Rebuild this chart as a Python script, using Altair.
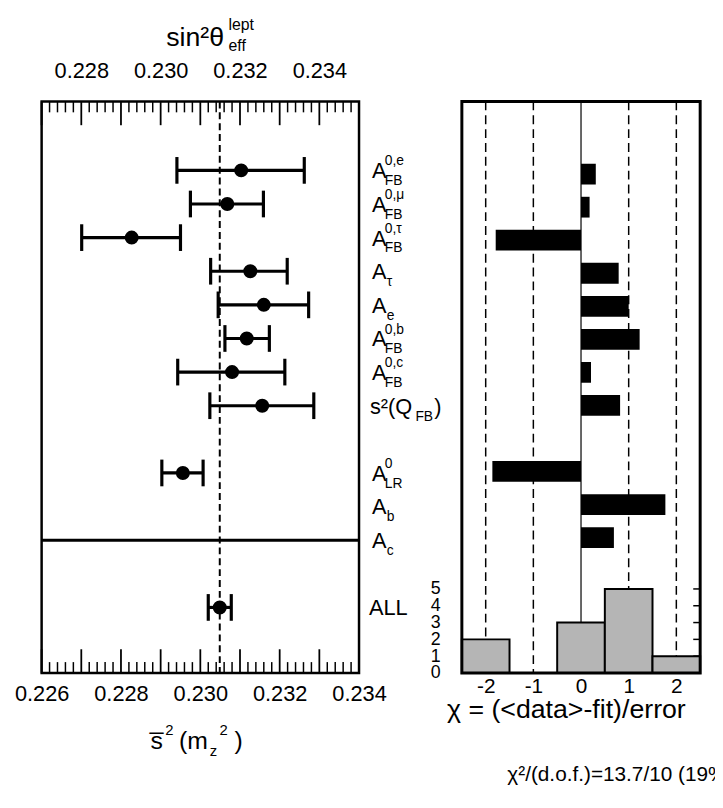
import altair as alt
import pandas as pd

FONT = "Liberation Sans"

# ---------------- data ----------------
row_order = ["AFB_e", "AFB_mu", "AFB_tau", "A_tau", "A_e", "AFB_b", "AFB_c",
             "s2_QFB", "gap1", "ALR", "A_b", "A_c", "gap2", "ALL"]

# left panel: effective s^2 measurements with errors
meas_names = ["AFB_e", "AFB_mu", "AFB_tau", "A_tau", "A_e", "AFB_b", "AFB_c",
              "s2_QFB", "ALR", "ALL"]
s2_val = [0.23103, 0.23068, 0.22827, 0.23126, 0.23160, 0.23117, 0.23080,
          0.23156, 0.22956, 0.23049]
s2_lo = [0.22941, 0.22975, 0.22701, 0.23026, 0.23045, 0.23062, 0.22943,
         0.23024, 0.22903, 0.23020]
s2_hi = [0.23262, 0.23159, 0.22950, 0.23219, 0.23273, 0.23174, 0.23213,
         0.23286, 0.23007, 0.23078]
s2_fit = 0.23049

# right panel: pulls
pull_names = ["AFB_e", "AFB_mu", "AFB_tau", "A_tau", "A_e", "AFB_b", "AFB_c",
              "s2_QFB", "ALR", "A_b", "A_c"]
pull_val = [0.31, 0.18, -1.79, 0.79, 1.00, 1.23, 0.21, 0.82, -1.86, 1.77, 0.69]

# histogram of pulls
hist_lo = [-2.5, -1.5, -0.5, 0.5, 1.5]
hist_hi = [-1.5, -0.5, 0.5, 1.5, 2.5]
hist_counts = [2, 0, 3, 5, 1]

bottom_labels = [0.226, 0.228, 0.230, 0.232, 0.234]
top_labels = [0.228, 0.230, 0.232, 0.234]
chi_labels = [-2, -1, 0, 1, 2]
count_labels = [0, 1, 2, 3, 4, 5]
grid_dashed = [-2, -1, 1, 2]

# ---------------- geometry ----------------
W, H = 666, 578
LW = 321
RX0, RX1 = 425, 666

xs = alt.Scale(domain=[0.226, 0.234], range=[0, LW], nice=False, zero=False)
xt = alt.Scale(domain=[0.227, 0.235], range=[0, LW], nice=False, zero=False)
xc = alt.Scale(domain=[-2.5, 2.5], range=[RX0, RX1], nice=False, zero=False)
yr = alt.Scale(domain=[-2.05, 14.95], range=[0, H], nice=False, zero=False)
yc = alt.Scale(domain=[0, 5], range=[H, H - 85], nice=False, zero=False)

ridx = {n: i for i, n in enumerate(row_order)}

meas = pd.DataFrame({"name": meas_names, "v": s2_val, "lo": s2_lo, "hi": s2_hi})
meas["row"] = meas["name"].map(ridx)
pulls = pd.DataFrame({"name": pull_names, "pull": pull_val})
pulls["row"] = pulls["name"].map(ridx)
pulls["zero"] = 0.0
hist = pd.DataFrame({"lo": hist_lo, "hi": hist_hi, "count": hist_counts, "base": 0})

# tick positions (0.0002 minor, 0.001 major)
bot_minor = [round(0.226 + 0.0002 * i, 5) for i in range(41) if i % 5]
bot_major = [round(0.226 + 0.001 * i, 4) for i in range(9)]
top_minor = [round(0.227 + 0.0002 * i, 5) for i in range(41) if i % 5]
top_major = [round(0.227 + 0.001 * i, 4) for i in range(9)]

lab_kw = dict(labelFont=FONT, labelColor="black", ticks=False, domain=False,
              grid=False, labelFlush=False, labelOverlap=False, title=None)


def df1(**kw):
    return pd.DataFrame(kw)


def txt(text, x, y, size, align="left"):
    return alt.Chart(df1(t=[text])).mark_text(
        font=FONT, fontSize=size, align=align, baseline="alphabetic", color="black"
    ).encode(text="t:N", x=alt.value(x), y=alt.value(y))


layers = []

# ----- right panel -----
layers.append(
    alt.Chart(df1(v=grid_dashed)).mark_rule(color="black", strokeWidth=1.5, strokeDash=[9, 5])
    .encode(x=alt.X("v:Q", scale=xc,
                    axis=alt.Axis(orient="bottom", values=chi_labels, labelFontSize=21,
                                  labelPadding=3, labelExpr="'' + datum.value", **lab_kw)),
            y=alt.value(0), y2=alt.value(H))
)
layers.append(
    alt.Chart(df1(v=[0])).mark_rule(color="black", strokeWidth=1.2)
    .encode(x=alt.X("v:Q", scale=xc, axis=None), y=alt.value(0), y2=alt.value(H))
)
layers.append(
    alt.Chart(hist).mark_rect(fill="#b5b5b5", stroke="black", strokeWidth=2)
    .encode(x=alt.X("lo:Q", scale=xc, axis=None), x2="hi:Q",
            y=alt.Y("count:Q", scale=yc,
                    axis=alt.Axis(orient="left", offset=-RX0, values=count_labels,
                                  labelFontSize=18, labelPadding=22, **lab_kw)),
            y2="base:Q")
)
layers.append(
    alt.Chart(pulls).mark_bar(color="black", size=21)
    .encode(x=alt.X("pull:Q", scale=xc, axis=None), x2="zero:Q",
            y=alt.Y("row:Q", scale=yr, axis=None))
)
layers.append(
    alt.Chart(df1(c=[1, 2, 3, 4, 5])).mark_rule(color="black", strokeWidth=1.5)
    .encode(y=alt.Y("c:Q", scale=yc, axis=None), x=alt.value(RX1 - 7), x2=alt.value(RX1))
)
layers.append(
    alt.Chart(df1(a=[0])).mark_rect(fill=None, stroke="black", strokeWidth=3)
    .encode(x=alt.value(RX0), x2=alt.value(RX1), y=alt.value(0), y2=alt.value(H))
)

# ----- left panel -----
layers.append(
    alt.Chart(df1(v=[s2_fit])).mark_rule(color="black", strokeWidth=2, strokeDash=[7, 4])
    .encode(x=alt.X("v:Q", scale=xs, axis=None), y=alt.value(0), y2=alt.value(H))
)
layers.append(
    alt.Chart(df1(r=[ridx["A_c"]])).mark_rule(color="black", strokeWidth=3)
    .encode(y=alt.Y("r:Q", scale=yr, axis=None), x=alt.value(0), x2=alt.value(LW))
)
layers.append(
    alt.Chart(meas).mark_rule(color="black", strokeWidth=3.2)
    .encode(x=alt.X("lo:Q", scale=xs, axis=None), x2="hi:Q",
            y=alt.Y("row:Q", scale=yr, axis=None))
)
for fld in ["lo", "hi"]:
    layers.append(
        alt.Chart(meas).mark_tick(color="black", orient="vertical", size=27, thickness=3.2, opacity=1)
        .encode(x=alt.X(f"{fld}:Q", scale=xs, axis=None),
                y=alt.Y("row:Q", scale=yr, axis=None))
    )
layers.append(
    alt.Chart(meas).mark_circle(color="black", size=200, opacity=1)
    .encode(x=alt.X("v:Q", scale=xs, axis=None), y=alt.Y("row:Q", scale=yr, axis=None))
)

# axis ticks (inward) and labels
layers.append(
    alt.Chart(df1(v=bot_major)).mark_rule(color="black", strokeWidth=1.8)
    .encode(x=alt.X("v:Q", scale=xs,
                    axis=alt.Axis(orient="bottom", values=bottom_labels, format=".3f",
                                  labelFontSize=22, labelPadding=11, **lab_kw)),
            y=alt.value(H - 24), y2=alt.value(H))
)
layers.append(
    alt.Chart(df1(v=bot_minor)).mark_rule(color="black", strokeWidth=1.5)
    .encode(x=alt.X("v:Q", scale=xs, axis=None), y=alt.value(H - 11), y2=alt.value(H))
)
layers.append(
    alt.Chart(df1(v=top_major)).mark_rule(color="black", strokeWidth=1.8)
    .encode(x=alt.X("v:Q", scale=xt,
                    axis=alt.Axis(orient="top", values=top_labels, format=".3f",
                                  labelFontSize=22, labelPadding=19, **lab_kw)),
            y=alt.value(0), y2=alt.value(24))
)
layers.append(
    alt.Chart(df1(v=top_minor)).mark_rule(color="black", strokeWidth=1.5)
    .encode(x=alt.X("v:Q", scale=xt, axis=None), y=alt.value(0), y2=alt.value(11))
)
layers.append(
    alt.Chart(df1(a=[0])).mark_rect(fill=None, stroke="black", strokeWidth=2.5)
    .encode(x=alt.value(0), x2=alt.value(LW), y=alt.value(0), y2=alt.value(H))
)

# ----- row labels (main / superscript / subscript segments) -----
A_X, SS_X = 334, 347
seg = []
for n, sup, sub in [("AFB_e", "0,e", "FB"), ("AFB_mu", "0,μ", "FB"), ("AFB_tau", "0,τ", "FB"),
                    ("AFB_b", "0,b", "FB"), ("AFB_c", "0,c", "FB"), ("ALR", "0", "LR")]:
    seg += [(n, "A", "main", A_X), (n, sup, "sup", SS_X), (n, sub, "sub", SS_X)]
for n, sub in [("A_tau", "τ"), ("A_e", "e"), ("A_b", "b"), ("A_c", "c")]:
    seg += [(n, "A", "main", A_X), (n, sub, "sub", SS_X + 2)]
seg += [("s2_QFB", "s²(Q", "main", 332), ("s2_QFB", "FB", "sub", 378),
        ("s2_QFB", ")", "main", 397), ("ALL", "ALL", "main", 331)]
segdf = pd.DataFrame(seg, columns=["name", "t", "kind", "px"])
segdf["row"] = segdf["name"].map(ridx)

for kind, size, dy in [("main", 22, 8), ("sup", 14, -5), ("sub", 14, 15)]:
    layers.append(
        alt.Chart(segdf[segdf.kind == kind]).mark_text(
            font=FONT, fontSize=size, align="left", baseline="alphabetic", dy=dy, color="black")
        .encode(text="t:N", x=alt.X("px:Q", scale=None),
                y=alt.Y("row:Q", scale=yr, axis=None))
    )

# ----- titles -----
layers += [
    txt("sin²θ", 126, -56, 27),
    txt("lept", 189, -72, 16),
    txt("eff", 189, -51, 16),
    txt("s\u0305", 110, 655, 25),
    txt("2", 125, 641, 15),
    txt("(m", 139, 655, 25),
    txt("z", 170, 662, 15),
    txt("2", 180, 641, 15),
    txt(")", 195, 655, 25),
    txt("χ = (<data>-fit)/error", 410, 624, 27),
    txt("χ²/(d.o.f.)=13.7/10 (19%)", 471, 687, 21),
]

chart = (
    alt.layer(*layers)
    .resolve_scale(x="independent", y="independent")
    .properties(width=W, height=H,
                autosize=alt.AutoSizeParams(type="none"),
                padding={"left": 34, "top": 90, "right": 15, "bottom": 130},
                background="white")
    .configure_view(stroke=None)
)

chart.save("out.html", embed_options={"renderer": "svg", "actions": False})
